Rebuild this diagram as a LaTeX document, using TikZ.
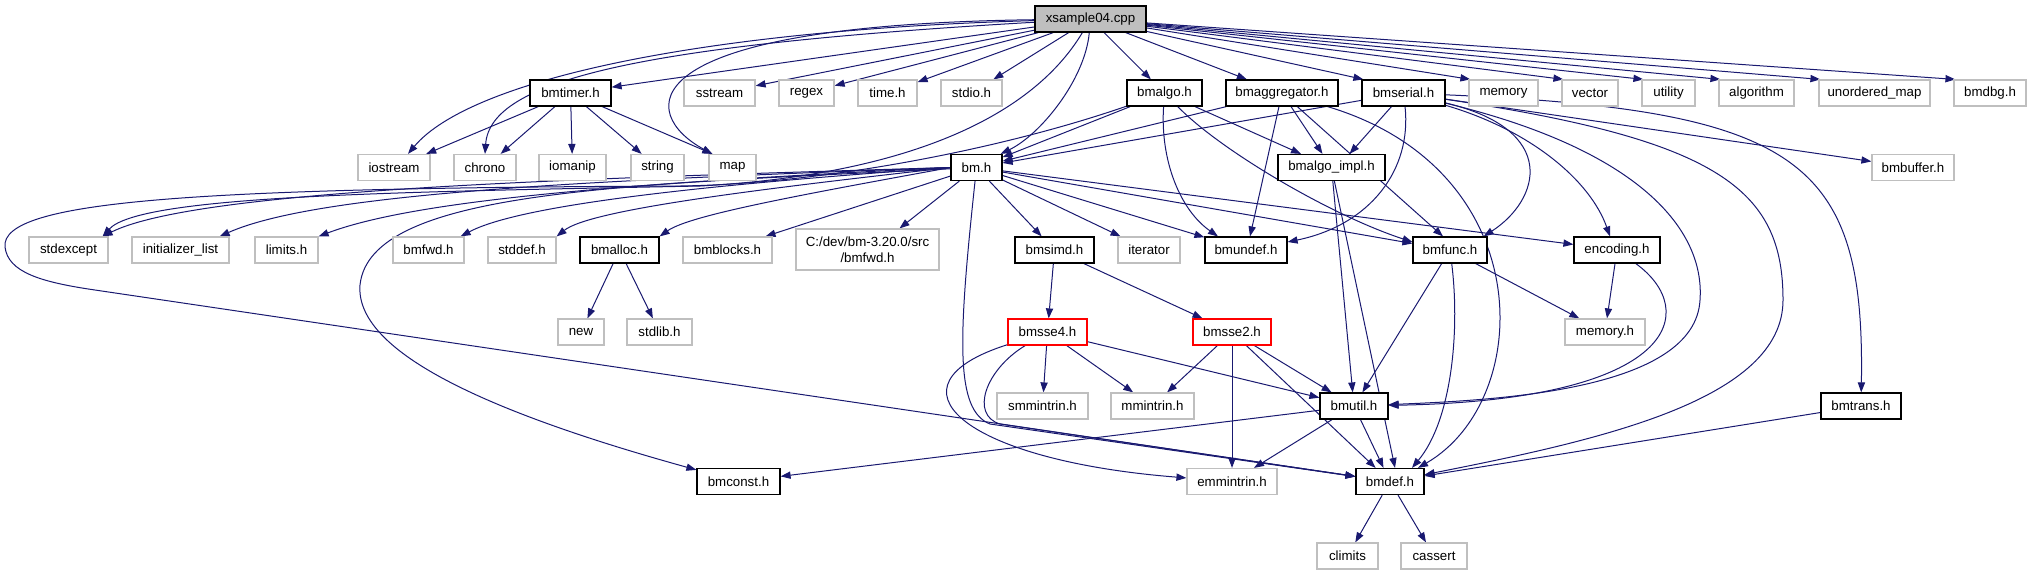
\documentclass[tikz,border=0pt]{standalone}
\usepackage{fontspec}
\setmainfont{Liberation Sans}
\usetikzlibrary{arrows.meta}
\definecolor{edgec}{HTML}{191970}
\definecolor{grayb}{HTML}{BFBFBF}
\pgfdeclarelayer{bg}
\pgfsetlayers{bg,main}
\begin{document}
\begin{tikzpicture}[x=0.5pt,y=-0.5pt,
  nd/.style={line width=0.6pt, inner sep=0pt, minimum height=13pt, fill=white,
    font=\fontsize{6.65}{8}\selectfont},
  doc/.style={nd, draw=black},
  sys/.style={nd, draw=grayb},
  trunc/.style={nd, draw=red},
  root/.style={nd, draw=black, fill=grayb},
  w/.style={minimum width=#1*0.5pt},
  e/.style={draw=edgec, line width=0.5pt, -{Triangle[length=5pt,width=3.6pt]}}]
\useasboundingbox (0,0) rectangle (2032,575);
% row 1
\node[root,w=111] (xs) at (1090.5,19) {xsample04.cpp};
% row 2
\node[doc,w=81] (bmtimer) at (570.5,93) {bmtimer.h};
\node[sys,w=71] (sstream) at (719.5,93) {sstream};
\node[sys,w=55] (regex) at (806.5,93) {regex};
\node[sys,w=59] (timeh) at (887.5,93) {time.h};
\node[sys,w=61] (stdioh) at (971.5,93) {stdio.h};
\node[doc,w=75] (bmalgo) at (1164.5,93) {bmalgo.h};
\node[doc,w=112] (bmagg) at (1282,93) {bmaggregator.h};
\node[doc,w=83] (bmserial) at (1403.5,93) {bmserial.h};
\node[sys,w=69] (memory) at (1503.5,93) {memory};
\node[sys,w=56] (vector) at (1590,93) {vector};
\node[sys,w=53] (utility) at (1668.5,93) {utility};
\node[sys,w=75] (algorithm) at (1756.5,93) {algorithm};
\node[sys,w=111] (umap) at (1874.5,93) {unordered\_map};
\node[sys,w=72] (bmdbg) at (1990,93) {bmdbg.h};
% row 3
\node[sys,w=72] (iostream) at (394,167.5) {iostream};
\node[sys,w=62] (chrono) at (485,167.5) {chrono};
\node[sys,w=67] (iomanip) at (572.5,167.5) {iomanip};
\node[sys,w=53] (string) at (657.5,167.5) {string};
\node[sys,w=47] (map) at (732.5,167.5) {map};
\node[doc,w=51] (bm) at (976.5,167.5) {bm.h};
\node[doc,w=107] (bmalgoimpl) at (1331.5,167.5) {bmalgo\_impl.h};
\node[sys,w=82] (bmbuffer) at (1913,167.5) {bmbuffer.h};
% row 4
\node[sys,w=79] (stdexcept) at (68.5,250) {stdexcept};
\node[sys,w=97] (initlist) at (180.5,250) {initializer\_list};
\node[sys,w=63] (limits) at (286.5,250) {limits.h};
\node[sys,w=71] (bmfwd) at (428.5,250) {bmfwd.h};
\node[sys,w=68] (stddef) at (522,250) {stddef.h};
\node[doc,w=79] (bmalloc) at (619.5,250) {bmalloc.h};
\node[sys,w=89] (bmblocks) at (727.5,250) {bmblocks.h};
\node[sys,w=143,minimum height=20.5pt,align=center] (cdev) at (867.5,249.5) {C:/dev/bm-3.20.0/src\\/bmfwd.h};
\node[doc,w=79] (bmsimd) at (1054.5,250) {bmsimd.h};
\node[sys,w=62] (iterator) at (1149,250) {iterator};
\node[doc,w=82] (bmundef) at (1246,250) {bmundef.h};
\node[doc,w=74] (bmfunc) at (1450,250) {bmfunc.h};
\node[doc,w=86] (encoding) at (1617,250) {encoding.h};
% row 5
\node[sys,w=46] (new) at (581,332) {new};
\node[sys,w=65] (stdlib) at (659.5,332) {stdlib.h};
\node[trunc,w=79] (bmsse4) at (1047.5,332) {bmsse4.h};
\node[trunc,w=78] (bmsse2) at (1232,332) {bmsse2.h};
\node[sys,w=80] (memoryh) at (1605,332) {memory.h};
% row 6
\node[sys,w=91] (smmintrin) at (1042.5,406) {smmintrin.h};
\node[sys,w=83] (mmintrin) at (1152.5,406) {mmintrin.h};
\node[doc,w=68] (bmutil) at (1354,406) {bmutil.h};
\node[doc,w=80] (bmtrans) at (1861,406) {bmtrans.h};
% row 7
\node[doc,w=83] (bmconst) at (738.5,481.5) {bmconst.h};
\node[sys,w=90] (emmintrin) at (1232,481.5) {emmintrin.h};
\node[doc,w=68] (bmdef) at (1390,481.5) {bmdef.h};
% row 8
\node[sys,w=61] (climits) at (1347.5,556) {climits};
\node[sys,w=66] (cassert) at (1434,556) {cassert};

\begin{pgfonlayer}{bg}
% xsample04.cpp
\draw[e] (xs) .. controls (700,30) and (470,80) .. ([xshift=7pt]iostream.north);
\draw[e] (xs) .. controls (640,45) and (490,80) .. (chrono.north);
\draw[e] (xs) .. controls (620,25) and (640,115) .. ([xshift=2pt]map.north west);
\draw[e] (xs) -- (bmtimer);
\draw[e] (xs) -- (sstream);
\draw[e] (xs) -- (regex);
\draw[e] (xs) -- (timeh);
\draw[e] (xs) -- (stdioh);
\draw[e] (xs) .. controls (1030,120) and (900,175) .. (700,186) .. controls (400,192) and (140,195) .. ([xshift=-3pt]stdexcept.north east);
\draw[e] (xs) .. controls (1085,80) and (1040,135) .. ([xshift=-1pt]bm.north east);
\draw[e] (xs) -- (bmalgo);
\draw[e] (xs) -- (bmagg);
\draw[e] (xs) -- ([xshift=1pt]bmserial.north west);
\draw[e] (xs) -- ([xshift=1pt]memory.north west);
\draw[e] (xs) -- ([xshift=1pt]vector.north west);
\draw[e] (xs) -- ([xshift=1pt]utility.north west);
\draw[e] (xs) -- ([xshift=1pt]algorithm.north west);
\draw[e] (xs) -- ([xshift=1pt]umap.north west);
\draw[e] (xs) -- ([xshift=1pt]bmdbg.north west);
% bmtimer.h
\draw[e] (bmtimer) -- (iostream);
\draw[e] (bmtimer) -- (chrono);
\draw[e] (bmtimer) -- (iomanip);
\draw[e] (bmtimer) -- (string);
\draw[e] (bmtimer) -- ([xshift=2pt]map.north west);
% bm.h
\draw[e] (bm.west) .. controls (600,178) and (200,188) .. ([xshift=-3pt]stdexcept.north east);
\draw[e] (bm.west) .. controls (600,180) and (320,192) .. ([xshift=-5pt]initlist.north east);
\draw[e] (bm.west) .. controls (650,182) and (420,198) .. (limits.north east);
\draw[e] (bm.west) .. controls (700,185) and (520,205) .. ([xshift=-2pt]bmfwd.north east);
\draw[e] (bm.west) .. controls (750,190) and (590,210) .. (stddef.north east);
\draw[e] (bm.west) .. controls (800,195) and (690,215) .. (bmalloc.north east);
\draw[e] (bm) -- ([xshift=19pt]bmblocks.north);
\draw[e] (bm) -- ([xshift=16pt]cdev.north);
\draw[e] (bm) -- (bmsimd);
\draw[e] (bm) -- (iterator);
\draw[e] (bm) -- (bmundef);
\draw[e] (bm) -- (bmfunc);
\draw[e] (bm) -- (encoding);
\draw[e] (bm) .. controls (958,340) and (955,410) .. (990,424) -- (bmdef);
\draw[e] (bm) .. controls (620,185) and (370,190) .. (360,285) .. controls (355,350) and (480,410) .. (bmconst);
% bmalloc.h
\draw[e] (bmalloc) -- (new);
\draw[e] (bmalloc) -- (stdlib);
% bmalgo.h
\draw[e] (bmalgo) -- (bm);
\draw[e] (bmalgo) .. controls (1000,150) and (820,184) .. (680,186) .. controls (200,188) and (0,200) .. (5,247) .. controls (8,272) and (40,282) .. (95,290) -- (bmdef);
\draw[e] (bmalgo) .. controls (1160,160) and (1180,210) .. ([xshift=-14pt]bmundef.north);
\draw[e] (bmalgo) -- (bmalgoimpl);
\draw[e] (bmalgo) .. controls (1220,150) and (1330,215) .. ([yshift=4pt]bmfunc.west);
% bmaggregator.h
\draw[e] (bmagg) -- (bm);
\draw[e] (bmagg) -- ([xshift=2pt]bmundef.north);
\draw[e] (bmagg) -- (bmalgoimpl);
\draw[e] (bmagg) -- ([xshift=-3.5pt]bmfunc.north);
\draw[e] (bmagg) .. controls (1540,170) and (1535,400) .. ([xshift=14pt]bmdef.north);
% bmserial.h
\draw[e] (bmserial) -- (bm);
\draw[e] (bmserial) -- ([xshift=9pt]bmalgoimpl.north);
\draw[e] (bmserial) .. controls (1412,170) and (1370,225) .. ([yshift=4pt]bmundef.east);
\draw[e] (bmserial) .. controls (1560,130) and (1540,200) .. ([xshift=-2pt]bmfunc.north east);
\draw[e] (bmserial) .. controls (1530,130) and (1590,180) .. ([xshift=-3.5pt]encoding.north);
\draw[e] (bmserial) .. controls (1640,150) and (1705,230) .. (1700,300) .. controls (1695,390) and (1500,400) .. (bmutil);
\draw[e] (bmserial) .. controls (1720,140) and (1783,190) .. (1783,300) .. controls (1783,400) and (1600,440) .. (bmdef);
\draw[e] (bmserial) .. controls (1800,110) and (1865,160) .. (bmtrans);
\draw[e] (bmserial) -- (bmbuffer);
% bmalgo_impl.h
\draw[e] (bmalgoimpl) -- (bmutil);
\draw[e] (bmalgoimpl) -- ([xshift=2.5pt]bmdef.north);
% bmfunc.h
\draw[e] (bmfunc) -- (bmutil);
\draw[e] (bmfunc) .. controls (1460,330) and (1452,420) .. ([xshift=11pt]bmdef.north);
\draw[e] (bmfunc) -- (memoryh);
% encoding.h
\draw[e] (encoding) -- (memoryh);
\draw[e] (encoding) .. controls (1700,310) and (1680,400) .. (bmutil);
% bmsimd.h
\draw[e] (bmsimd) -- (bmsse4);
\draw[e] (bmsimd) -- (bmsse2);
% bmsse4.h
\draw[e] (bmsse4) -- (smmintrin);
\draw[e] (bmsse4) -- (mmintrin);
\draw[e] (bmsse4) -- (bmutil);
\draw[e] (bmsse4) .. controls (880,385) and (960,460) .. (emmintrin);
\draw[e] (bmsse4) .. controls (985,370) and (970,415) .. (1000,424) -- (bmdef);
% bmsse2.h
\draw[e] (bmsse2) -- (mmintrin);
\draw[e] (bmsse2) -- (emmintrin);
\draw[e] (bmsse2) -- (bmdef);
\draw[e] (bmsse2) -- (bmutil);
% bmutil.h
\draw[e] (bmutil) -- (bmconst);
\draw[e] (bmutil) -- (emmintrin);
\draw[e] (bmutil) -- (bmdef);
% bmtrans.h
\draw[e] (bmtrans) -- (bmdef);
% bmdef.h
\draw[e] (bmdef) -- (climits);
\draw[e] (bmdef) -- (cassert);
\end{pgfonlayer}
\end{tikzpicture}
\end{document}
